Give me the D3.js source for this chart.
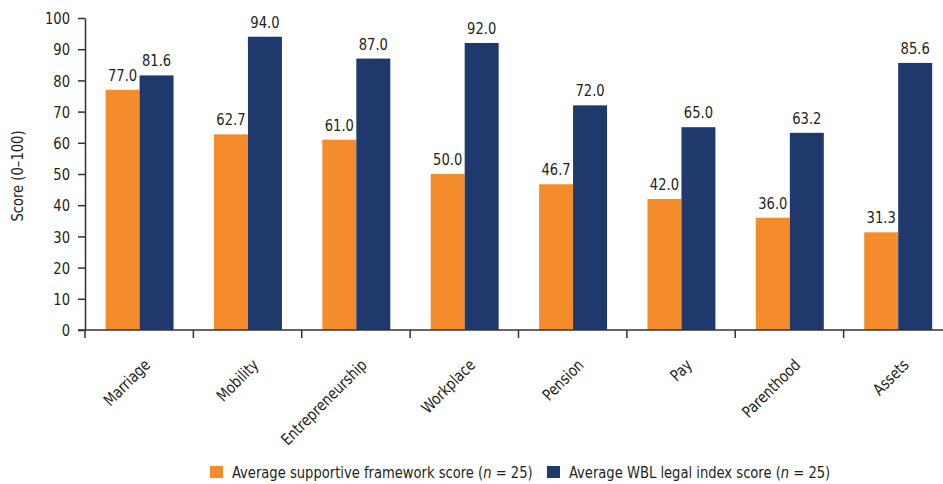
<!DOCTYPE html>
<html>
<head>
<meta charset="utf-8">
<script src="https://cdn.jsdelivr.net/npm/d3@7"></script>
<style>
  html, body { margin: 0; padding: 0; background: #fff; }
  svg { display: block; }
  text { font-family: "DejaVu Sans Condensed", "Liberation Sans Narrow", sans-serif; fill: #231f20; }
</style>
</head>
<body>
<svg id="chart" width="943" height="484"></svg>
<script>
const categories = ["Marriage", "Mobility", "Entrepreneurship", "Workplace", "Pension", "Pay", "Parenthood", "Assets"];
const supportiveScores = [77.0, 62.7, 61.0, 50.0, 46.7, 42.0, 36.0, 31.3];
const wblScores = [81.6, 94.0, 87.0, 92.0, 72.0, 65.0, 63.2, 85.6];
const seriesNames = ["Average supportive framework score", "Average WBL legal index score"];
const yTicks = [0, 10, 20, 30, 40, 50, 60, 70, 80, 90, 100];
const yTitle = "Score (0\u2013100)";

const colors = ["#F48C2B", "#1F396D"];
const series = [supportiveScores, wblScores];

const svg = d3.select("#chart");
const x0 = 85, x1 = 952, yTop = 18, yBottom = 330;
const FS = 16;

// measure horizontal condensation factor so the font matches the reference's narrow face
const probe = svg.append("text").attr("font-size", FS).text("Average supportive framework score (n = 25)");
const f = 301 / probe.node().getComputedTextLength();
probe.remove();

function label(parent, px, py, rot, anchor, txt) {
  return parent.append("text")
    .attr("transform", `translate(${px},${py}) rotate(${rot}) scale(${f},1)`)
    .attr("text-anchor", anchor)
    .attr("font-size", FS)
    .text(txt);
}

const x = d3.scaleBand().domain(categories).range([x0, x1]).paddingInner(0).paddingOuter(0);
const xs = d3.scaleBand().domain([0, 1]).range([x.bandwidth() * 0.19, x.bandwidth() * 0.817]).padding(0);
const y = d3.scaleLinear().domain([0, 100]).range([yBottom, yTop]);

// bars
categories.forEach((c, i) => {
  series.forEach((s, j) => {
    svg.append("rect")
      .attr("x", x(c) + xs(j))
      .attr("y", y(s[i]))
      .attr("width", xs.bandwidth())
      .attr("height", y(0) - y(s[i]))
      .attr("fill", colors[j]);
    label(svg, x(c) + xs(j) + xs.bandwidth() / 2, y(s[i]) - 9, 0, "middle", s[i].toFixed(1));
  });
});

// y axis
const yAxis = d3.axisLeft(y).tickValues(yTicks).tickSize(7).tickPadding(6).tickSizeOuter(0);
const gy = svg.append("g").attr("transform", `translate(${x0},0)`).call(yAxis);
gy.select(".domain").attr("stroke", "#333").attr("stroke-width", 1.5);
gy.selectAll(".tick line").attr("stroke", "#333").attr("stroke-width", 1.5);
gy.selectAll(".tick text")
  .attr("font-size", FS).attr("fill", "#231f20").attr("x", 0).attr("dy", "0.36em")
  .attr("transform", `translate(-15,0) scale(${f},1)`)
  .style("font-family", '"DejaVu Sans Condensed", "Liberation Sans Narrow", sans-serif');

// x axis
const gx = svg.append("g").attr("transform", `translate(0,${yBottom})`);
gx.append("line").attr("x1", x0 - 7).attr("x2", 943).attr("y1", 0).attr("y2", 0)
  .attr("stroke", "#333").attr("stroke-width", 1.5);
categories.forEach(c => {
  gx.append("line").attr("x1", x(c)).attr("x2", x(c)).attr("y1", 0).attr("y2", 8)
    .attr("stroke", "#333").attr("stroke-width", 1.5);
  const cx = x(c) + x.bandwidth() / 2;
  label(gx, cx + 12, 36, -45, "end", c);
});

// y title
label(svg, 23, 176, -90, "middle", yTitle);

// legend
const legend = svg.append("g");
const legendItems = [
  { x: 210, name: seriesNames[0], color: colors[0] },
  { x: 547, name: seriesNames[1], color: colors[1] }
];
legendItems.forEach(it => {
  legend.append("rect").attr("x", it.x).attr("y", 466).attr("width", 13).attr("height", 12).attr("fill", it.color);
  const t = label(legend, it.x + 22, 478, 0, "start", null);
  t.append("tspan").text(it.name + " (");
  t.append("tspan").attr("font-style", "italic").text("n");
  t.append("tspan").text(" = 25)");
});
</script>
</body>
</html>
